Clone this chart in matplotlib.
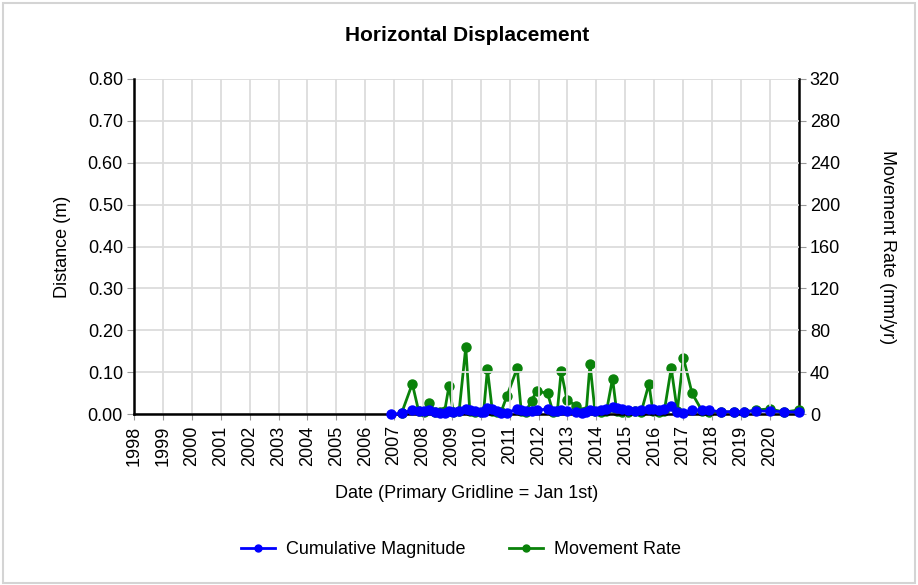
import matplotlib
matplotlib.use("Agg")
import matplotlib.pyplot as plt
from matplotlib.lines import Line2D
from matplotlib.patches import Rectangle
import numpy as np

plt.rcParams['font.family'] = ['Liberation Sans', 'DejaVu Sans']

# Survey epochs (decimal years)
survey_dates = [
    2006.88, 2007.26, 2007.63, 2007.85, 2008.05, 2008.22, 2008.40, 2008.60,
    2008.75, 2008.90, 2009.05, 2009.25, 2009.48, 2009.62, 2009.80, 2010.00,
    2010.10, 2010.23, 2010.40, 2010.55, 2010.70, 2010.90, 2011.26, 2011.40,
    2011.55, 2011.76, 2011.93, 2012.31, 2012.50, 2012.65, 2012.78, 2012.98,
    2013.28, 2013.50, 2013.65, 2013.78, 2013.95, 2014.15, 2014.35, 2014.56,
    2014.70, 2014.90, 2015.10, 2015.35, 2015.55, 2015.82, 2015.95, 2016.15,
    2016.35, 2016.59, 2016.80, 2017.01, 2017.31, 2017.66, 2017.90, 2018.30,
    2018.75, 2019.10, 2019.51, 2020.00, 2020.50, 2021.00,
]

# Cumulative horizontal magnitude (m)
cumulative_magnitude = [
    0.000, 0.002, 0.010, 0.008, 0.007, 0.009, 0.006, 0.004,
    0.003, 0.008, 0.005, 0.008, 0.012, 0.009, 0.007, 0.006,
    0.005, 0.014, 0.012, 0.008, 0.002, 0.004, 0.012, 0.010,
    0.007, 0.008, 0.010, 0.012, 0.008, 0.007, 0.010, 0.008,
    0.005, 0.004, 0.006, 0.010, 0.008, 0.010, 0.012, 0.016,
    0.015, 0.013, 0.010, 0.008, 0.010, 0.013, 0.012, 0.011,
    0.013, 0.020, 0.005, 0.003, 0.010, 0.010, 0.009, 0.006,
    0.006, 0.006, 0.008, 0.007, 0.006, 0.005,
]

# Movement rate between consecutive surveys (mm/yr); none for the first epoch
movement_rate = [
    np.nan, 1, 29, 3, 2, 11, 2, 2,
    3, 27, 2, 3, 64, 3, 2, 2,
    3, 43, 3, 2, 2, 17, 44, 3,
    2, 13, 22, 20, 2, 3, 41, 14,
    8, 2, 3, 48, 3, 2, 3, 34,
    3, 2, 2, 3, 2, 29, 3, 2,
    3, 44, 3, 54, 20, 3, 2, 2,
    2, 2, 4, 5, 2, 4,
]

year_ticks = list(range(1998, 2021))
distance_ticks = [0.0, 0.1, 0.2, 0.3, 0.4, 0.5, 0.6, 0.7, 0.8]
rate_ticks = [0, 40, 80, 120, 160, 200, 240, 280, 320]

fig = plt.figure(figsize=(9.18, 5.85), dpi=100)
fig.patches.append(Rectangle((0.003, 0.003), 0.994, 0.992, transform=fig.transFigure,
                             fill=False, edgecolor='#d4d4d4', linewidth=1.5))

ax = fig.add_axes([0.146, 0.292, 0.724, 0.573])
ax2 = ax.twinx()

blue = '#0000ff'
green = '#0a820a'

ax2.plot(survey_dates, movement_rate, color=green, linewidth=2, marker='o',
         markersize=6.5, clip_on=False, zorder=3)
ax.plot(survey_dates, cumulative_magnitude, color=blue, linewidth=2, marker='o',
        markersize=6.5, clip_on=False, zorder=3)

# keep the distance series drawn above the rate series
ax.set_zorder(ax2.get_zorder() + 1)
ax.patch.set_visible(False)

ax.set_xlim(1998, 2021)
ax.set_ylim(0, 0.8)
ax2.set_ylim(0, 320)

tick_fs = 13
ax.set_xticks(year_ticks)
ax.set_xticklabels([str(y) for y in year_ticks], rotation=90, fontsize=tick_fs)
ax.set_yticks(distance_ticks)
ax.set_yticklabels([f"{v:.2f}" for v in distance_ticks], fontsize=tick_fs)
ax2.set_yticks(rate_ticks)
ax2.set_yticklabels([str(v) for v in rate_ticks], fontsize=tick_fs)

ax.grid(True, color='#dcdcdc', linewidth=1.3)
ax.set_axisbelow(True)

for a in (ax, ax2):
    a.spines['top'].set_visible(False)
    a.spines['left'].set_linewidth(1.8)
    a.spines['right'].set_linewidth(1.8)
    a.spines['bottom'].set_linewidth(1.8)
ax.spines['right'].set_visible(False)
ax2.spines['left'].set_visible(False)
ax2.spines['bottom'].set_visible(False)

ax.tick_params(axis='y', length=5, color='#999999', pad=3)
ax.tick_params(axis='x', length=4, color='#999999', pad=4)
ax2.tick_params(axis='y', length=5, color='#999999', pad=3)

label_fs = 13
ax.set_xlabel('Date (Primary Gridline = Jan 1st)', fontsize=label_fs, labelpad=14)
ax.set_ylabel('Distance (m)', fontsize=label_fs, labelpad=12)
ax2.set_ylabel('Movement Rate (mm/yr)', fontsize=label_fs, rotation=-90, labelpad=40)

fig.text(0.509, 0.940, 'Horizontal Displacement', ha='center', va='center',
         fontsize=15, fontweight='bold')

handles = [
    Line2D([], [], color=blue, linewidth=2, marker='o', markersize=5),
    Line2D([], [], color=green, linewidth=2, marker='o', markersize=5),
]
fig.legend(handles, ['Cumulative Magnitude', 'Movement Rate'], loc='center',
           bbox_to_anchor=(0.502, 0.06), ncol=2, frameon=False, fontsize=label_fs,
           handlelength=1.9, handletextpad=0.6, columnspacing=2.4)

fig.savefig('out.png', dpi=100)
